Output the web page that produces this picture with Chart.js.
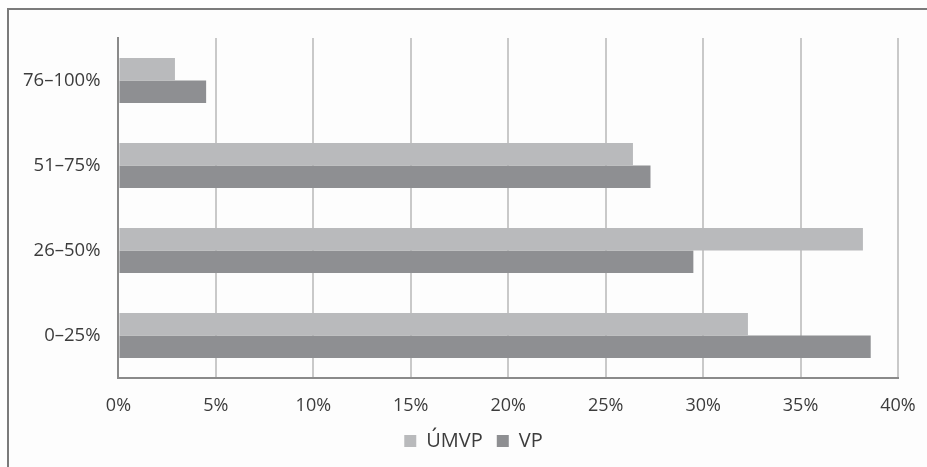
<!DOCTYPE html>
<html>
<head>
<meta charset="utf-8">
<script src="https://cdn.jsdelivr.net/npm/chart.js@4/dist/chart.umd.min.js"></script>
<style>
  html, body { margin: 0; padding: 0; background: #ffffff; }
  #wrap { position: relative; width: 927px; height: 467px; overflow: hidden; background: #fdfdfd; }
  #frame { position: absolute; left: 7px; top: 8px; width: 960px; height: 480px;
           border-top: 2px solid #7a7a7a; border-left: 2px solid #7a7a7a; box-sizing: border-box; }
  #c { position: absolute; left: 0; top: 0; }
</style>
</head>
<body>
<div id="wrap">
  <div id="frame"></div>
  <canvas id="c" width="955" height="467"></canvas>
</div>
<script>
// Share groups, listed top to bottom
const categories = ['76–100%', '51–75%', '26–50%', '0–25%'];
const seriesNames = ['ÚMVP', 'VP'];
const umvpValues = [2.9, 26.4, 38.2, 32.3];
const vpValues = [4.5, 27.3, 29.5, 38.6];
const xTickStep = 5;
const xMax = 40;

const fontFamily = '"Open Sans", Lato, "Liberation Sans", sans-serif';
const legendBoxHeight = 50;
const legendShift = 22;   // centre the legend on the whole frame, not the padded area
const xAxisTrim = 17;     // drop the spare room under the x tick labels

// Fixed-height legend block, centred on the full canvas width
const legendLayoutPlugin = {
  id: 'legendLayout',
  beforeInit(chart) {
    const legend = chart.legend;
    const origFit = legend.fit;
    legend.fit = function () {
      origFit.call(this);
      this.height = legendBoxHeight;
    };
  },
  afterLayout(chart) {
    chart.legend.left += legendShift;
    chart.legend.right += legendShift;
  }
};

new Chart(document.getElementById('c'), {
  type: 'bar',
  data: {
    labels: categories,
    datasets: [
      { label: seriesNames[0], data: umvpValues, backgroundColor: '#b9babc' },
      { label: seriesNames[1], data: vpValues, backgroundColor: '#8e8f92' }
    ]
  },
  plugins: [legendLayoutPlugin],
  options: {
    indexAxis: 'y',
    responsive: false,
    animation: false,
    devicePixelRatio: 1,
    categoryPercentage: 0.53,
    barPercentage: 1.0,
    layout: { padding: { top: 38, right: 57, left: 5, bottom: 0 } },
    plugins: {
      legend: {
        position: 'bottom',
        labels: {
          boxWidth: 12, boxHeight: 12, padding: 14,
          color: '#3c3c3c',
          font: { family: fontFamily, size: 20 }
        }
      },
      tooltip: { enabled: false }
    },
    scales: {
      x: {
        min: 0, max: xMax,
        afterFit(scale) { scale.height -= xAxisTrim; },
        ticks: {
          stepSize: xTickStep,
          padding: 19,
          color: '#3c3c3c',
          font: { family: fontFamily, size: 18, lineHeight: 1 },
          callback: v => v + '%'
        },
        grid: { color: '#c9c9c9', lineWidth: 2, drawTicks: false },
        border: { color: '#8a8a8a', width: 2 }
      },
      y: {
        ticks: {
          padding: 18,
          color: '#3c3c3c',
          font: { family: fontFamily, size: 18.5, lineHeight: 1 }
        },
        grid: { display: false, drawTicks: false },
        border: { color: '#8a8a8a', width: 2 }
      }
    }
  }
});
</script>
</body>
</html>
